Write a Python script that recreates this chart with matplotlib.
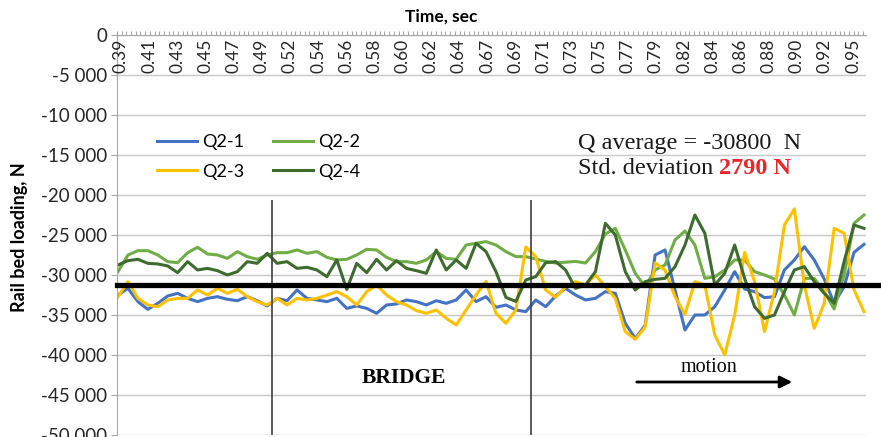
import numpy as np
import matplotlib.pyplot as plt

# category axis labels (time, sec) - one label every 6 samples
time_labels = ['0.39', '0.41', '0.43', '0.45', '0.47', '0.49', '0.52', '0.54', '0.56',
               '0.58', '0.60', '0.62', '0.64', '0.67', '0.69', '0.71', '0.73', '0.75',
               '0.77', '0.79', '0.82', '0.84', '0.86', '0.88', '0.90', '0.92', '0.95']
y_ticks = list(range(-50000, 1, 5000))

# rail bed loading, N (at even time steps)
q2_1 = [-32500, -31670, -33330, -34290, -33540, -32620, -32290, -32920, -33330, -32920,
        -32710, -33040, -33210, -32710, -33210, -33870, -32920, -33210, -31870,
        -32920, -33120, -33330, -32920, -34170, -33870, -34170, -34790, -33750, -33620,
        -33120, -33330, -33750, -33210, -33540, -33120, -31870, -33330, -32710,
        -34040, -33750, -34370, -34580, -33120, -33960, -32620, -31670, -32500, -33120,
        -32920, -32080, -32290, -36040, -37920, -36300, -27500, -26870,
        -31870, -36870, -35000, -35000, -33960, -31870, -29580, -31750, -32080, -32830,
        -32710, -29370, -28120, -26460, -28120, -30500, -33540, -31460, -27170, -26170]
q2_2 = [-29580, -27500, -26960, -26960, -27500, -28330, -28460, -27210, -26540, -27370,
        -27500, -27920, -27080, -27710, -28040, -27500, -27210, -27210, -26870,
        -27290, -27080, -27790, -28120, -28040, -27500, -26790, -26870, -27790, -28330,
        -28330, -28540, -28120, -27080, -27920, -28040, -26250, -26040, -25830,
        -26250, -27080, -27700, -27700, -28000, -28300, -28500, -28400, -28300, -28500,
        -27080, -24870, -24170, -26870, -29790, -31460, -29370, -28750,
        -25620, -24500, -26250, -30420, -30210, -29370, -28120, -28120, -29580, -30000,
        -30500, -32500, -35000, -30420, -30420, -32080, -34250, -30000, -23540, -22500]
q2_3 = [-32710, -30830, -32920, -33750, -33960, -33120, -32920, -32920, -31870, -32500,
        -31670, -32290, -31790, -32710, -33330, -33750, -32920, -33750, -32920,
        -33120, -32920, -32500, -32080, -32710, -33750, -32080, -31250, -32500, -33330,
        -33750, -34460, -34790, -34370, -35420, -36250, -34370, -32500, -30800,
        -34790, -36040, -34370, -26500, -27700, -31870, -32790, -31460, -30830, -31250,
        -30000, -31460, -32920, -37080, -38040, -36500, -28500, -29400,
        -32710, -34920, -30830, -31250, -37500, -40000, -35000, -27170, -30830, -37080,
        -32080, -23750, -21750, -31250, -36670, -33540, -24170, -24790, -31870, -34580]
q2_4 = [-28750, -28210, -28040, -28540, -28620, -28870, -29710, -28330, -29370, -29170,
        -29460, -30000, -29580, -28330, -28540, -27290, -28540, -28330, -29170,
        -29040, -29370, -30210, -28120, -31800, -28540, -29710, -28040, -29370, -28210,
        -29170, -29460, -29790, -26870, -29370, -28120, -29170, -26040, -27080,
        -29580, -32800, -33300, -30620, -30210, -28460, -28330, -29370, -31670, -31250,
        -29580, -23540, -25000, -29580, -31870, -30830, -30540, -30420,
        -28960, -26250, -22500, -24790, -31250, -29790, -26250, -30420, -33960, -35420,
        -35000, -32080, -29370, -28960, -30830, -32290, -33540, -28330, -23750, -24170]

series = [q2_1, q2_2, q2_3, q2_4]
names = ['Q2-1', 'Q2-2', 'Q2-3', 'Q2-4']
colors = ['#4472C4', '#70AD47', '#FFC000', '#3E6B2E']

q_average = -31200          # thick black reference line
bridge_start, bridge_end = 0.5055, 0.7037
bridge_top = -20600
t_first, t_last = 0.3877, 0.9584
x_lo, x_hi = 0.38694, 0.95994
label_lo, label_hi = 0.39, 0.95

W, H = 881, 437
plt.rcParams['font.family'] = ['Lato', 'DejaVu Sans']
serif = 'Liberation Serif'
grey = '#A6A6A6'

fig = plt.figure(figsize=(W / 100, H / 100), dpi=100)
ax = fig.add_axes([117 / W, 2 / H, 749 / W, 400 / H])

t = np.linspace(t_first, t_last, len(q2_1))
lines = []
for vals, name, c in zip(series, names, colors):
    ln, = ax.plot(t, vals, color=c, lw=2.2, label=name, solid_joinstyle='round')
    lines.append(ln)

ax.set_xlim(x_lo, x_hi)
ax.set_ylim(-50000, 0)

# y axis
ax.set_yticks(y_ticks)
ax.set_yticklabels([f'{v:,}'.replace(',', ' ') for v in y_ticks])
ax.yaxis.grid(True, color='#C8C8C8', lw=1)
ax.set_axisbelow(True)
ax.tick_params(axis='y', length=4, color=grey, labelsize=13.5, labelcolor='#262626', pad=3)

# category axis on top, labels hanging below it
step = (label_hi - label_lo) / 156
ax.xaxis.tick_top()
ax.set_xticks(np.arange(x_lo, x_hi + 1e-9, step))
ax.tick_params(axis='x', length=3, color=grey, labeltop=False)
for x, lab in zip(np.linspace(label_lo, label_hi, len(time_labels)), time_labels):
    ax.text(x, -450, lab, rotation=90, ha='center', va='top', fontsize=12.5,
            color='#262626')

for s in ['right', 'bottom']:
    ax.spines[s].set_visible(False)
for s in ['left', 'top']:
    ax.spines[s].set_color(grey)

ax.vlines([bridge_start, bridge_end], -50000, bridge_top, color='#404040', lw=1.2)
ax.axhline(q_average, xmin=0, xmax=761 / 749, color='black', lw=3.8, clip_on=False, zorder=5)

fig.text(441 / W, 1 - 17 / H, 'Time, sec', ha='center', va='center',
         fontsize=12.5, fontweight='bold')
fig.text(20 / W, 1 - 237 / H, 'Rail bed loading, N', rotation=90, ha='center',
         va='center', fontsize=13, fontweight='bold')

order = [0, 2, 1, 3]
fig.legend([lines[i] for i in order], [names[i] for i in order], ncol=2,
           loc='upper left', bbox_to_anchor=(157 / W, 1 - 134 / H), frameon=False,
           fontsize=13, handlelength=2.2, handletextpad=0.3, columnspacing=1.6,
           labelspacing=0.75, borderpad=0, borderaxespad=0)

fig.text(578 / W, 1 - 143 / H, 'Q average = -30800  N', family=serif,
         fontsize=17.5, va='center', color='#1a1a1a')
t1 = fig.text(578 / W, 1 - 169 / H, 'Std. deviation ', family=serif,
              fontsize=17.5, va='center', color='#1a1a1a')
ax.annotate('2790 N', xy=(1, 0), xycoords=t1, va='bottom', ha='left',
            family=serif, fontsize=17.5, fontweight='bold', color='#E8262B')

fig.text(404 / W, 1 - 378 / H, 'BRIDGE', family=serif, fontsize=15.5,
         fontweight='bold', ha='center', va='center')
fig.text(709 / W, 1 - 368 / H, 'motion', family=serif, fontsize=14.5,
         ha='center', va='center')
ax.annotate('', xy=(795 / W, 1 - 382 / H), xytext=(634 / W, 1 - 382 / H),
            xycoords='figure fraction', textcoords='figure fraction',
            arrowprops=dict(arrowstyle='-|>', lw=2, color='black', mutation_scale=18))

fig.savefig('out.png', dpi=100)
